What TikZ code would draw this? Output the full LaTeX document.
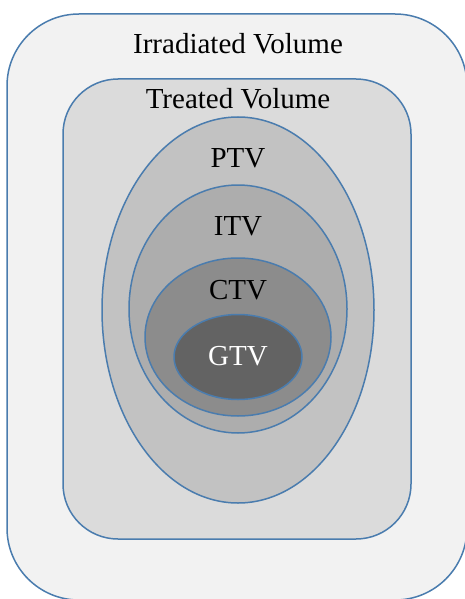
\documentclass[tikz,border=0pt]{standalone}
\usepackage{fontspec}
\setmainfont{Liberation Serif}
\usepackage{xcolor}
\usetikzlibrary{shapes.geometric}

\definecolor{edgeblue}{HTML}{4A7CAE}

\begin{document}
\begin{tikzpicture}[x=1pt, y=-1pt, font=\fontsize{29}{34}\selectfont]
    \tikzstyle{volbox} = [rectangle, draw=edgeblue, line width=1.5pt, inner sep=0pt]
    \tikzstyle{volring} = [ellipse, draw=edgeblue, line width=1.5pt, inner sep=0pt]
    \tikzstyle{vollabel} = [inner sep=0pt, anchor=center]

    \useasboundingbox (0,0) rectangle (465,599);
    \clip (0,0) rectangle (465,599);

    % Irradiated and treated volumes
    \node [volbox, fill=black!5, rounded corners=72pt, minimum width=460pt, minimum height=586pt] (irradiated) at (237,307) {};
    \node [volbox, fill=black!14, rounded corners=55pt, minimum width=348pt, minimum height=460pt] (treated) at (237,309) {};

    % Target volumes
    \node [volring, fill=black!24, minimum width=272pt, minimum height=386pt] (ptv) at (238,310) {};
    \node [volring, fill=black!32, minimum width=218pt, minimum height=248pt] (itv) at (238,309) {};
    \node [volring, fill=black!45, minimum width=186pt, minimum height=158pt] (ctv) at (238,337) {};
    \node [volring, fill=black!61, minimum width=128pt, minimum height=85pt] (gtv) at (238,357) {};

    % Labels
    \node [vollabel] (irradiated_lbl) at (238,44) {Irradiated Volume};
    \node [vollabel] (treated_lbl) at (238,99) {Treated Volume};
    \node [vollabel] (ptv_lbl) at (238,158) {PTV};
    \node [vollabel] (itv_lbl) at (238,226) {ITV};
    \node [vollabel] (ctv_lbl) at (238,290) {CTV};
    \node [vollabel, text=white] (gtv_lbl) at (238,356) {GTV};

\end{tikzpicture}
\end{document}
